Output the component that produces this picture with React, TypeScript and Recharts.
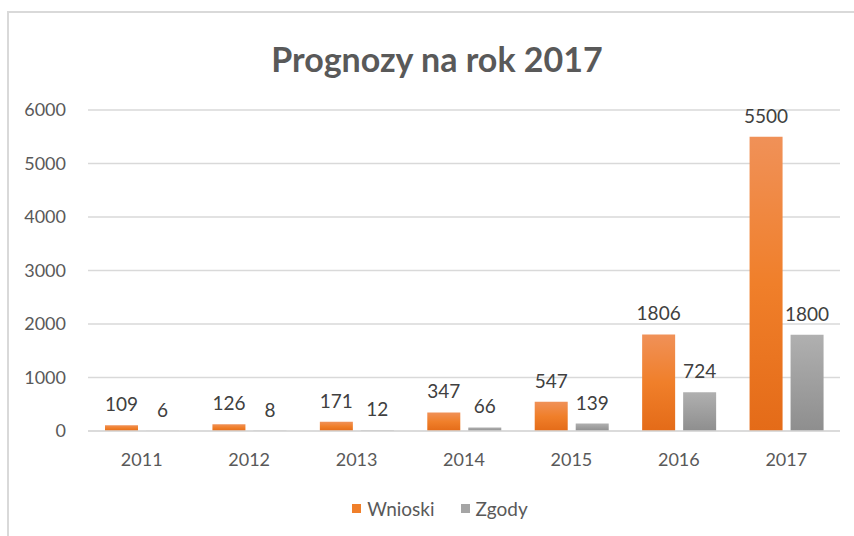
import React from 'react';
import { BarChart, Bar, XAxis, YAxis, CartesianGrid, Legend, LabelList } from 'recharts';

const years = ['2011', '2012', '2013', '2014', '2015', '2016', '2017'];
const wnioski = [109, 126, 171, 347, 547, 1806, 5500];
const zgody = [6, 8, 12, 66, 139, 724, 1800];
const yTicks = [0, 1000, 2000, 3000, 4000, 5000, 6000];
const seriesNames = ['Wnioski', 'Zgody'];
const legendColors = ['#F07F2A', '#A5A5A5'];

const data = years.map((y, i) => ({ year: y, Wnioski: wnioski[i], Zgody: zgody[i] }));

const FONT = 'Lato, "Open Sans", sans-serif';
const TXT = '#595959';

const LegendContent = () => (
  <div style={{ display: 'flex', justifyContent: 'center', alignItems: 'center', fontFamily: FONT, fontSize: 19, color: TXT, paddingLeft: 32 }}>
    {seriesNames.map((n, i) => (
      <div key={n} style={{ display: 'flex', alignItems: 'center', marginRight: i === 0 ? 26 : 0 }}>
        <span style={{ display: 'inline-block', width: 9, height: 9, background: legendColors[i], marginRight: 6 }} />
        <span>{n}</span>
      </div>
    ))}
  </div>
);

export default function App() {
  return (
    <div style={{ position: 'absolute', left: 0, top: 0, width: 854, height: 536, background: '#fff', overflow: 'hidden', fontFamily: FONT }}>
      <div style={{ position: 'absolute', left: 7, top: 11, width: 880, height: 560, border: '2px solid #d9d9d9', boxSizing: 'border-box' }} />
      <div style={{ position: 'absolute', left: 0, top: 38, width: 874, textAlign: 'center', fontSize: 34, fontWeight: 700, color: TXT, fontFamily: FONT }}>
        Prognozy na rok 2017
      </div>
      <div style={{ position: 'absolute', left: 0, top: 0 }}>
        <BarChart
          width={854}
          height={536}
          data={data}
          margin={{ top: 110, right: 14, left: 8, bottom: 22 }}
          barSize={33}
          barGap={8}
        >
          <defs>
            <linearGradient id="gOrange" x1="0" y1="0" x2="0" y2="1">
              <stop offset="0%" stopColor="#F09158" />
              <stop offset="50%" stopColor="#F07F2A" />
              <stop offset="100%" stopColor="#E46B18" />
            </linearGradient>
            <linearGradient id="gGray" x1="0" y1="0" x2="0" y2="1">
              <stop offset="0%" stopColor="#B0B0B0" />
              <stop offset="100%" stopColor="#8E8E8E" />
            </linearGradient>
          </defs>
          <CartesianGrid vertical={false} stroke="#d9d9d9" strokeWidth={1.5} />
          <XAxis
            dataKey="year"
            axisLine={{ stroke: '#d9d9d9', strokeWidth: 1.5 }}
            tickLine={false}
            tick={{ fill: TXT, fontSize: 18, fontFamily: FONT }}
            tickMargin={16}
            height={60}
          />
          <YAxis
            domain={[0, 6000]}
            ticks={yTicks}
            axisLine={false}
            tickLine={false}
            tick={{ fill: TXT, fontSize: 18, fontFamily: FONT }}
            tickMargin={16}
            width={80}
            interval={0}
          />
          <Legend verticalAlign="bottom" content={<LegendContent />} wrapperStyle={{ bottom: 16 }} />
          <Bar dataKey="Wnioski" fill="url(#gOrange)" isAnimationActive={false}>
            <LabelList dataKey="Wnioski" position="top" offset={14} style={{ fill: '#404040', fontSize: 19, fontFamily: FONT }} />
          </Bar>
          <Bar dataKey="Zgody" fill="url(#gGray)" isAnimationActive={false}>
            <LabelList dataKey="Zgody" position="top" offset={14} style={{ fill: '#404040', fontSize: 19, fontFamily: FONT }} />
          </Bar>
        </BarChart>
      </div>
    </div>
  );
}
